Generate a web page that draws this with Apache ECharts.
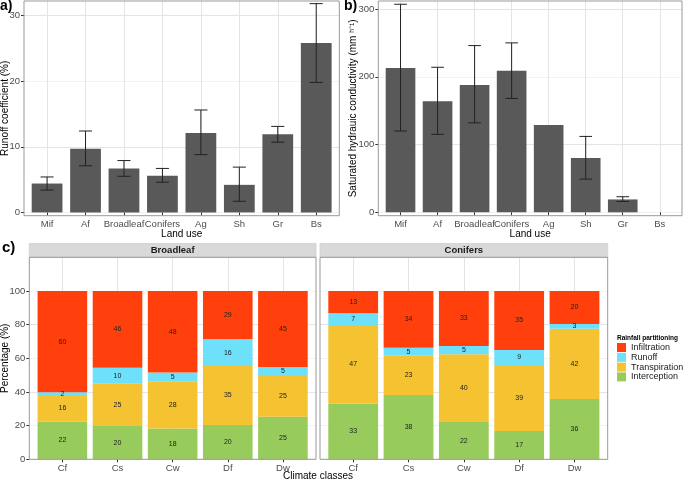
<!DOCTYPE html>
<html>
<head>
<meta charset="utf-8">
<script src="https://cdn.jsdelivr.net/npm/echarts@6/dist/echarts.min.js"></script>
<style>
  html, body, #chart { width: 685px; height: 480px; margin: 0; background: #fff; }
</style>
</head>
<body>
<div id="chart"></div>
<script>
// panels a and b: land use
var landUse = ['Mif', 'Af', 'Broadleaf', 'Conifers', 'Ag', 'Sh', 'Gr', 'Bs'];
var runoffCoef = [4.4, 9.7, 6.7, 5.6, 12.1, 4.2, 11.9, 25.8];
var runoffLow  = [3.4, 7.1, 5.5, 4.6, 8.8, 1.7, 10.7, 19.8];
var runoffHigh = [5.4, 12.4, 7.9, 6.7, 15.6, 6.9, 13.1, 31.8];
var ksat     = [213, 164, 188, 209, 129, 80, 19, null];
var ksatLow  = [120, 115, 132, 168, null, 49, 16, null];
var ksatHigh = [307, 214, 246, 250, null, 112, 23, null];

// panel c: rainfall partitioning (%), bottom to top
var climate = ['Cf', 'Cs', 'Cw', 'Df', 'Dw'];
var facets = ['Broadleaf', 'Conifers'];
var partNames = ['Interception', 'Transpiration', 'Runoff', 'Infiltration'];
var partColors = ['#97cc5d', '#f5c232', '#6ee0fa', '#ff400c'];
var legendOrder = ['Infiltration', 'Runoff', 'Transpiration', 'Interception'];
var blInterception  = [22.3, 19.8, 18.3, 20.4, 25.3];
var blTranspiration = [15.9, 25.1, 28.0, 35.0, 24.8];
var blRunoff        = [1.6, 9.5, 5.3, 15.9, 4.7];
var blInfiltration  = [60.2, 45.6, 48.4, 28.7, 45.2];
var cnInterception  = [33.2, 38.2, 22.2, 16.8, 35.8];
var cnTranspiration = [46.6, 23.4, 40.2, 39.2, 41.8];
var cnRunoff        = [7.0, 4.7, 4.9, 8.9, 2.8];
var cnInfiltration  = [13.2, 33.7, 32.7, 35.1, 19.6];

var ticksA = [0, 10, 20, 30];
var ticksB = [0, 100, 200, 300];
var ticksC = [0, 20, 40, 60, 80, 100];

var FONT = '"Liberation Sans", Arial, Helvetica, sans-serif';
var MAJOR = '#e4e4e4', MINOR = '#f2f2f2';

var chart = echarts.init(document.getElementById('chart'));

var boxes = [
  {l: 24, r: 339.3, t: 1, b: 215.7, cats: landUse, min: -0.5, max: 32.2, split: 7,
   ticks: ticksA, cycle: [MINOR, MAJOR], yName: 'Runoff coefficient (%)', yGap: 13.5, xName: 'Land use'},
  {l: 378.3, r: 682, t: 1, b: 215.7, cats: landUse, min: -5, max: 311.8, split: 7,
   ticks: ticksB, cycle: [MINOR, MAJOR], yName: 'Saturated hydrauic conductivity (mm ʰ⁻¹)', yGap: 20, xName: 'Land use'},
  {l: 29.3, r: 316, t: 257.3, b: 459.3, cats: climate, min: 0, max: 120, interval: 10,
   ticks: ticksC, cycle: [MAJOR, MINOR], yName: 'Percentage (%)', yGap: 19},
  {l: 320, r: 607.7, t: 257.3, b: 459.3, cats: climate, min: 0, max: 120, interval: 10,
   ticks: ticksC, cycle: [MAJOR, MINOR], noY: true}
];

var grid = [], xAxis = [], yAxis = [];
boxes.forEach(function (bx, i) {
  var w = bx.r - bx.l, h = bx.b - bx.t;
  var inset = 0.1 * w / (bx.cats.length + 0.2);
  grid.push({left: bx.l, top: bx.t, width: w, height: h, show: true, z: 3,
             backgroundColor: 'transparent', borderColor: '#999', borderWidth: 1, outerBoundsMode: 'none'});
  grid.push({left: bx.l + inset, top: bx.t, width: w - 2 * inset, height: h, outerBoundsMode: 'none'});
  xAxis.push({gridIndex: 2 * i, type: 'value', min: 0, max: 1, show: false});
  xAxis.push({
    gridIndex: 2 * i + 1, type: 'category', data: bx.cats,
    axisLine: {show: false},
    axisTick: {show: true, alignWithLabel: true, length: 3, lineStyle: {color: '#333'}},
    axisLabel: {margin: 4, fontSize: 9.5, color: '#4d4d4d', fontFamily: FONT, interval: 0},
    splitLine: {show: true, alignWithLabel: true, lineStyle: {color: MAJOR, width: 1}},
    name: bx.xName || '', nameLocation: 'middle', nameGap: 13.5, nameMoveOverlap: false,
    nameTextStyle: {fontSize: 10, color: '#000', fontFamily: FONT}
  });
  yAxis.push({
    gridIndex: 2 * i, type: 'value', min: bx.min, max: bx.max, interval: bx.interval, splitNumber: bx.split,
    axisLine: {show: false},
    axisTick: {show: !bx.noY, customValues: bx.ticks, length: 3, lineStyle: {color: '#333'}},
    axisLabel: {show: !bx.noY, customValues: bx.ticks, margin: 4, fontSize: 9.5, color: '#4d4d4d', fontFamily: FONT,
      formatter: function (v) { return bx.ticks.indexOf(v) >= 0 ? String(v) : ''; }},
    splitLine: {show: true, lineStyle: {color: bx.cycle, width: 1}},
    name: bx.yName || '', nameLocation: 'middle', nameGap: bx.yGap || 0, nameRotate: 90, nameMoveOverlap: false,
    nameTextStyle: {fontSize: 10, color: '#000', fontFamily: FONT}
  });
  yAxis.push({gridIndex: 2 * i + 1, type: 'value', min: bx.min, max: bx.max, show: false});
});

function errorBar(params, api) {
  var x = api.value(0);
  var top = api.coord([x, api.value(2)]);
  var bot = api.coord([x, api.value(1)]);
  var half = api.size([1, 0])[0] * 0.17;
  var st = {stroke: '#222', lineWidth: 1};
  return {type: 'group', children: [
    {type: 'line', shape: {x1: top[0], y1: top[1], x2: bot[0], y2: bot[1]}, style: st},
    {type: 'line', shape: {x1: top[0] - half, y1: top[1], x2: top[0] + half, y2: top[1]}, style: st},
    {type: 'line', shape: {x1: bot[0] - half, y1: bot[1], x2: bot[0] + half, y2: bot[1]}, style: st}
  ]};
}

function errData(lo, hi) {
  var out = [];
  lo.forEach(function (v, i) { if (v != null && hi[i] != null) out.push([i, v, hi[i]]); });
  return out;
}

var series = [
  {type: 'bar', xAxisIndex: 1, yAxisIndex: 1, data: runoffCoef, barWidth: '80%', itemStyle: {color: '#595959'}},
  {type: 'custom', xAxisIndex: 1, yAxisIndex: 1, data: errData(runoffLow, runoffHigh), renderItem: errorBar,
   encode: {x: 0, y: [1, 2]}, z: 4},
  {type: 'bar', xAxisIndex: 3, yAxisIndex: 3, data: ksat, barWidth: '80%', itemStyle: {color: '#595959'}},
  {type: 'custom', xAxisIndex: 3, yAxisIndex: 3, data: errData(ksatLow, ksatHigh), renderItem: errorBar,
   encode: {x: 0, y: [1, 2]}, z: 4}
];

var facetParts = [
  [blInterception, blTranspiration, blRunoff, blInfiltration],
  [cnInterception, cnTranspiration, cnRunoff, cnInfiltration]
];
facetParts.forEach(function (parts, f) {
  parts.forEach(function (vals, k) {
    series.push({
      type: 'bar', name: partNames[k], stack: 'facet' + f,
      xAxisIndex: 5 + 2 * f, yAxisIndex: 5 + 2 * f,
      data: vals, barWidth: '90%',
      itemStyle: {color: partColors[k]},
      label: {show: true, position: 'inside', fontSize: 7, color: '#222', fontFamily: FONT,
              formatter: function (p) { return Math.round(p.value); }}
    });
  });
});

var graphic = [
  {type: 'text', x: 0, y: -1, style: {text: 'a)', font: 'bold 14px ' + FONT, fill: '#000'}},
  {type: 'text', x: 344, y: -1, style: {text: 'b)', font: 'bold 14px ' + FONT, fill: '#000'}},
  {type: 'text', x: 2, y: 240, style: {text: 'c)', font: 'bold 15px ' + FONT, fill: '#000'}},
  {type: 'text', x: 318, y: 471, style: {text: 'Climate classes', font: '10px ' + FONT, fill: '#000', textAlign: 'center'}},
  {type: 'text', x: 617, y: 335, style: {text: 'Rainfall partitioning', font: 'bold 6.5px ' + FONT, fill: '#000'}}
];
facets.forEach(function (name, f) {
  var bx = boxes[2 + f];
  graphic.push({type: 'rect', shape: {x: bx.l, y: 243.5, width: bx.r - bx.l, height: 13.8},
                style: {fill: '#d9d9d9', stroke: '#cfcfcf', lineWidth: 0.8}});
  graphic.push({type: 'text', x: (bx.l + bx.r) / 2, y: 250.5,
                style: {text: name, font: 'bold 9.5px ' + FONT, fill: '#1a1a1a', textAlign: 'center', textVerticalAlign: 'middle'}});
});

chart.setOption({
  animation: false,
  textStyle: {fontFamily: FONT},
  grid: grid,
  xAxis: xAxis,
  yAxis: yAxis,
  legend: {
    data: legendOrder, orient: 'vertical', left: 617, top: 343, padding: 0,
    itemWidth: 9, itemHeight: 9, itemGap: 0.8, icon: 'rect', selectedMode: false,
    textStyle: {fontSize: 9, color: '#1a1a1a', lineHeight: 9, fontFamily: FONT}
  },
  graphic: graphic,
  series: series
});
</script>
</body>
</html>
